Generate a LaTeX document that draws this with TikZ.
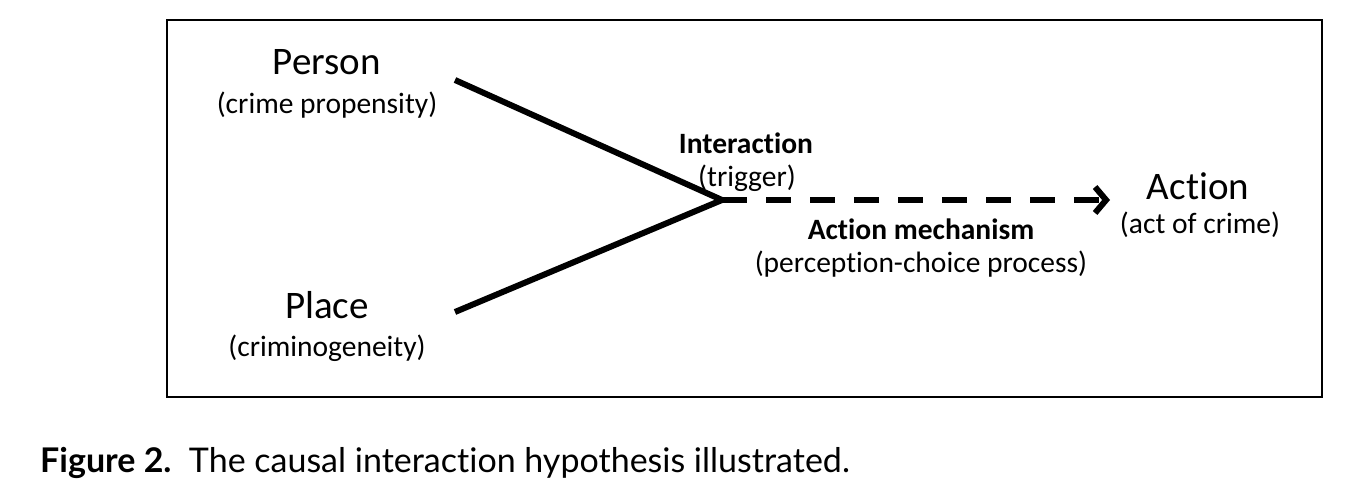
\documentclass[tikz,border=0pt]{standalone}
\usepackage{fontspec}
\setmainfont{Carlito}[Ligatures=NoCommon]
\newfontfamily\capfont{Lato}[Ligatures=NoCommon]
\usetikzlibrary{arrows.meta}
\tikzset{
  big/.style={font=\fontsize{39}{42}\selectfont, inner sep=0pt},
  small/.style={font=\fontsize{29.5}{32}\selectfont, inner sep=0pt},
  bsmall/.style={font=\fontsize{29.5}{32}\selectfont\bfseries, inner sep=0pt},
  link/.style={line width=6pt, line join=miter},
  dashlink/.style={line width=6pt, dash pattern=on 25pt off 19pt, -{Straight Barb[length=11pt,width=26pt,line width=6pt]}},
}
\begin{document}
\begin{tikzpicture}[x=1pt,y=-1pt]
\useasboundingbox (0,0) rectangle (1353,494);
\draw[line width=2pt] (167,20) rectangle (1322,397);
\node[big] (person) at (327,62) {Person};
\node[small] (personsub) at (327,105) {(crime propensity)};
\node[big] (place) at (327,305) {Place};
\node[small] (placesub) at (327,348) {(criminogeneity)};
\node[bsmall] (inter) at (746,143) {Interaction};
\node[small] (intersub) at (747,178) {(trigger)};
\node[big] (action) at (1198,186) {Action};
\node[small] (actionsub) at (1200,225) {(act of crime)};
\node[bsmall] (mech) at (921,229) {Action mechanism};
\node[small] (mechsub) at (921,264) {(perception-choice process)};
\coordinate (a) at (455,80);
\coordinate (b) at (455,312);
\coordinate (apex) at (722,200);
\coordinate (tip) at (1110,200);
\draw[link] (a) -- (apex) -- (b);
\draw[dashlink] (apex) -- (tip);
\node[anchor=base west, inner sep=0pt, font=\capfont\fontsize{34}{38}\selectfont] (cap) at (40,472) {\textbf{Figure 2.}\ \ The causal interaction hypothesis illustrated.};
\end{tikzpicture}
\end{document}
